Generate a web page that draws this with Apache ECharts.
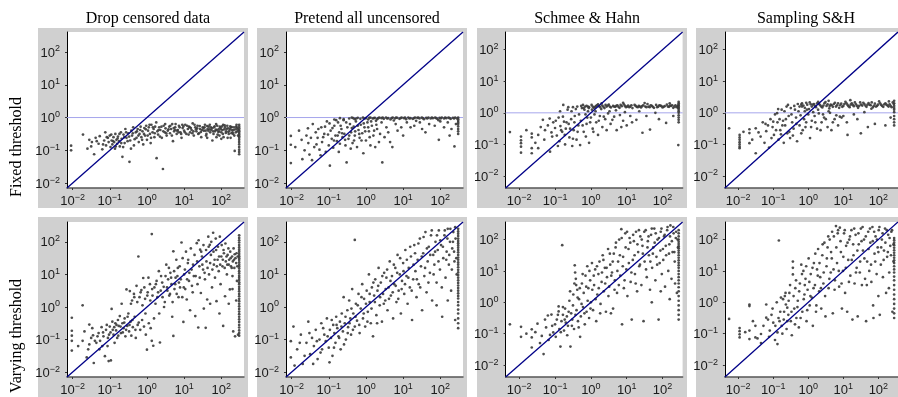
<!DOCTYPE html>
<html><head><meta charset="utf-8">
<script src="https://cdn.jsdelivr.net/npm/echarts@6/dist/echarts.min.js"></script>
<style>html,body{margin:0;padding:0;background:#fff}#c{width:898px;height:397px}</style>
</head><body><div id="c"></div>
<script>
// All point values are given as log10 exponents [log10(x), log10(y)].
const columnTitles = ['Drop censored data', 'Pretend all uncensored', 'Schmee & Hahn', 'Sampling S&H'];
const rowTitles = ['Fixed threshold', 'Varying threshold'];
const axisRangeA = [-2.15, 2.61];   // columns 1-2 (log10)
const axisRangeB = [-2.38, 2.56];   // columns 3-4 (log10)
const stackXA = 2.48;
const stackXB = 2.45;

// ---- Fixed threshold ----
const fixedDrop = [[-2.04,-0.86],[-2.04,-1.0],[-1.72,-0.52],[-1.6,-0.95],[-1.55,-0.68],[-1.5,-0.88],[-1.48,-0.75],[-1.42,-1.12],[-1.38,-0.62],[-1.3,-0.8],[-1.27,-0.57],[-1.2,-0.97],[-1.15,-0.7],[-1.12,-0.45],[-1.1,-0.85],[-1.05,-0.62],[-1.03,-0.75],[-1.0,-0.55],[-0.98,-0.9],[-0.95,-0.7],[-0.93,-0.82],[-0.9,-0.6],[-0.88,-0.75],[-0.86,-0.95],[-0.85,-0.5],[-0.82,-0.68],[-0.8,-0.8],[-0.78,-0.58],[-0.75,-0.72],[-0.73,-0.88],[-0.7,-0.45],[-0.68,-0.65],[-0.66,-1.2],[-0.63,-0.52],[-0.6,-0.78],[-0.58,-0.35],[-0.55,-0.62],[-0.5,-0.48],[-0.47,-1.35],[-0.45,-0.7],[-0.42,-0.4],[-0.4,-0.55],[-0.37,-0.3],[-0.35,-0.85],[-0.3,-0.45],[-0.28,-0.62],[-0.25,-0.35],[-0.22,-0.75],[-0.2,-0.5],[-0.17,-0.28],[-0.15,-0.6],[-0.12,-0.42],[-0.1,-0.82],[-0.07,-0.32],[-0.05,-0.55],[-0.02,-0.25],[0.0,-0.68],[0.03,-0.4],[0.05,-0.3],[0.08,-0.5],[0.1,-0.78],[0.12,-0.22],[0.15,-0.45],[0.18,-0.35],[0.2,-0.6],[0.22,-0.28],[0.26,-1.24],[0.28,-0.42],[0.3,-0.52],[0.33,-0.3],[0.36,-0.38],[0.4,-0.62],[0.43,-1.57],[0.45,-0.25],[0.48,-0.45],[0.5,-0.33],[0.53,-0.55],[0.56,-0.4],[0.6,-0.28],[0.62,-0.48],[0.65,-0.35],[0.68,-0.2],[0.7,-0.72],[0.73,-0.42],[0.76,-0.3],[0.8,-0.5],[0.83,-0.38],[0.86,-0.25],[0.9,-0.45],[0.93,-0.62],[0.96,-0.32],[1.0,-0.4],[1.03,-0.22],[1.06,-0.5],[1.1,-0.35],[1.13,-0.28],[1.16,-0.45],[1.2,-0.38],[1.23,-0.18],[1.26,-0.55],[1.3,-0.3],[1.33,-0.42],[1.36,-0.25],[1.4,-0.48],[1.43,-0.35],[1.46,-0.6],[1.5,-0.3],[1.53,-0.4],[1.56,-0.22],[1.6,-0.5],[1.63,-0.35],[1.66,-0.28],[1.7,-0.45],[1.73,-0.38],[1.76,-0.7],[1.8,-0.3],[1.83,-0.42],[1.86,-0.2],[1.9,-0.52],[1.93,-0.35],[1.96,-0.28],[2.0,-0.45],[2.03,-0.38],[2.06,-0.6],[2.1,-0.3],[2.13,-0.42],[2.16,-0.25],[2.2,-0.5],[2.23,-0.35],[2.26,-0.3],[2.3,-0.45],[2.33,-0.38],[2.36,-1.02],[2.4,-0.28],[2.43,-0.42],[1.52,-0.32],[1.58,-0.4],[1.62,-0.26],[1.68,-0.36],[1.72,-0.3],[1.78,-0.42],[1.82,-0.27],[1.88,-0.38],[1.92,-0.44],[1.98,-0.31],[2.02,-0.27],[2.08,-0.36],[2.12,-0.47],[2.18,-0.33],[2.22,-0.4],[2.28,-0.29],[2.32,-0.5],[2.38,-0.36],[2.42,-0.31],[2.45,-0.55],[1.15,-0.3],[0.95,-0.22],[0.85,-0.45],[0.75,-0.38],[1.25,-0.42],[1.45,-0.44],[1.35,-0.33],[2.25,-0.62],[2.05,-0.22],[1.95,-0.55]];
const fixedDropMore = [[-1.35,-0.72],[-1.18,-0.82],[-1.08,-0.6],[-0.96,-0.52],[-0.91,-0.72],[-0.84,-0.88],[-0.79,-0.64],[-0.74,-0.5],[-0.69,-0.78],[-0.64,-0.9],[-0.61,-0.6],[-0.56,-0.45],[-0.52,-0.72],[-0.48,-0.58],[-0.43,-0.95],[-0.38,-0.48],[-0.33,-0.66],[-0.27,-0.42],[-0.23,-0.55],[-0.18,-0.38],[-0.13,-0.68],[-0.08,-0.5],[-0.03,-0.36],[0.02,-0.55],[0.07,-0.22],[0.11,-0.62],[0.16,-0.3],[0.21,-0.48],[0.25,-0.15],[0.31,-0.38],[0.35,-0.58],[0.39,-0.28],[0.44,-0.42],[0.49,-0.2],[0.52,-0.48],[0.58,-0.36],[0.63,-0.25],[0.67,-0.55],[0.72,-0.32],[0.77,-0.2],[0.81,-0.4],[0.88,-0.3],[0.92,-0.5],[0.98,-0.27],[1.02,-0.45],[1.08,-0.25],[1.12,-0.52],[1.18,-0.32],[1.22,-0.48],[1.28,-0.22],[1.32,-0.36],[1.38,-0.5],[1.42,-0.26],[1.48,-0.38],[1.55,-0.3],[1.59,-0.55],[1.65,-0.4],[1.69,-0.22],[1.75,-0.33],[1.79,-0.5],[1.85,-0.37],[1.89,-0.25],[1.94,-0.42],[1.99,-0.36],[2.04,-0.5],[2.09,-0.24],[2.14,-0.35],[2.19,-0.44],[2.24,-0.27],[2.29,-0.38],[2.34,-0.3],[2.39,-0.45],[2.44,-0.36],[2.41,-0.22],[2.35,-0.55],[2.27,-0.48],[2.17,-0.62],[2.0,-0.65],[1.87,-0.6],[1.62,-0.62]];
const fixedDropStack = [-0.22,-0.28,-0.33,-0.38,-0.42,-0.47,-0.52,-0.57,-0.62,-0.68,-0.75,-0.82,-0.9,-0.98,-1.05,-1.12];

const fixedPretend = [[-2.02,-0.56],[-2.02,-0.83],[-2.02,-1.39],[-1.73,-0.68],[-1.71,-1.27],[-1.56,-0.33],[-1.55,-0.78],[-1.52,-1.13],[-1.43,-0.2],[-1.39,-0.9],[-1.35,-0.45],[-1.3,-0.62],[-1.25,-0.98],[-1.2,-0.3],[-1.18,-0.75],[-1.12,-0.5],[-1.08,-1.05],[-1.05,-0.12],[-1.0,-0.85],[-0.97,-1.47],[-0.95,-0.4],[-0.92,-0.65],[-0.88,-0.92],[-0.85,-0.25],[-0.82,-0.55],[-0.78,-0.72],[-0.75,-0.15],[-0.72,-0.45],[-0.7,-0.8],[-0.66,-0.35],[-0.63,-0.6],[-0.6,-0.05],[-0.58,-0.5],[-0.55,-0.85],[-0.52,-1.37],[-0.5,-0.3],[-0.47,-0.65],[-0.43,-0.2],[-0.4,-0.45],[-0.36,-0.78],[-0.33,-0.28],[-0.3,-0.55],[-0.27,-0.12],[-0.24,-0.9],[-0.2,-0.38],[-0.17,-0.62],[-0.14,-0.22],[-0.1,-0.48],[-0.07,-1.09],[-0.04,-0.3],[0.0,-0.7],[0.04,-0.15],[0.08,-0.42],[0.12,-0.85],[0.16,-0.25],[0.2,-0.55],[0.25,-0.9],[0.3,-0.35],[0.35,-0.75],[0.44,-1.37],[0.5,-0.6],[0.6,-0.45],[0.71,-0.9],[0.8,-0.2],[0.95,-0.3],[1.1,-0.15],[1.3,-0.25],[1.51,-0.35],[1.7,-0.2],[1.96,-0.68],[2.1,-0.3],[2.2,-0.15],[2.38,-0.88],[2.3,-0.35],
[-0.45,-0.03],[-0.38,0],[-0.3,-0.05],[-0.22,-0.01],[-0.15,-0.04],[-0.08,0],[0.0,-0.02],[0.06,-0.06],[0.12,0],[0.18,-0.03],[0.24,-0.01],[0.3,-0.05],[0.36,0],[0.42,-0.02],[0.48,-0.04],[0.54,0],[0.6,-0.02],[0.66,-0.06],[0.72,0],[0.78,-0.03],[0.84,-0.01],[0.9,-0.04],[0.96,0],[1.02,-0.02],[1.08,-0.05],[1.14,0],[1.2,-0.02],[1.26,-0.04],[1.32,0],[1.38,-0.01],[1.44,-0.03],[1.5,0],[1.56,-0.05],[1.62,-0.01],[1.68,0],[1.74,-0.03],[1.8,-0.02],[1.86,0],[1.92,-0.04],[1.98,-0.01],[2.04,0],[2.1,-0.03],[2.16,-0.02],[2.22,0],[2.28,-0.04],[2.34,-0.01],[2.4,0],[2.45,-0.03],[-0.34,-0.02],[-0.26,-0.03],[-0.04,-0.03],[0.09,-0.01],[0.21,-0.02],[0.33,-0.02],[0.45,0],[0.57,-0.03],[0.69,-0.02],[0.81,0],[0.93,-0.02],[1.05,0],[1.17,-0.03],[1.29,-0.02],[1.41,0],[1.53,-0.02],[1.65,-0.03],[1.77,0],[1.89,-0.02],[2.01,-0.03],[2.13,0],[2.25,-0.02],[2.37,-0.03],[-0.6,-0.08],[-0.7,-0.02],[-0.85,-0.06],[0.27,-0.1],[0.75,-0.09],[1.35,-0.1],[1.95,-0.08]];
const fixedPretendMore = [[-1.9,-0.9],[-1.8,-0.4],[-1.65,-1.0],[-1.6,-0.55],[-1.48,-0.62],[-1.45,-1.3],[-1.33,-0.82],[-1.28,-0.35],[-1.22,-1.15],[-1.15,-0.6],[-1.1,-0.28],[-1.02,-0.52],[-0.98,-0.18],[-0.9,-0.32],[-0.86,-0.7],[-0.8,-0.08],[-0.76,-0.55],[-0.73,-1.05],[-0.68,-0.25],[-0.64,-0.48],[-0.56,-0.68],[-0.53,-0.15],[-0.45,-0.55],[-0.41,-0.95],[-0.38,-0.32],[-0.32,-0.7],[-0.29,-0.42],[-0.22,-0.25],[-0.18,-0.5],[-0.12,-0.7],[-0.06,-0.18],[-0.02,-0.42],[0.06,-0.3],[0.1,-0.6],[0.14,-0.12],[0.22,-0.4],[0.28,-0.22],[0.38,-0.5],[0.42,-0.15],[0.55,-0.3],[0.65,-0.75],[0.85,-0.4],[1.0,-0.55],[1.2,-0.3],[1.45,-0.15],[1.6,-0.45],[1.85,-0.25],[2.0,-0.12],[2.25,-0.55],[2.42,-0.2]];
const fixedPretendStack = [0,-0.05,-0.1,-0.15,-0.2,-0.27,-0.35,-0.42,-0.5];

const fixedSchmee = [[-2.26,-0.61],[-1.95,-0.75],[-1.95,-0.87],[-1.95,-0.96],[-1.95,-1.07],[-1.95,-1.26],[-1.65,-0.66],[-1.65,-0.78],[-1.65,-1.12],[-1.65,-1.28],[-1.47,-0.7],[-1.47,-1.12],[-1.34,-0.22],[-1.28,-0.55],[-1.2,-0.4],[-1.14,-1.23],[-1.1,-0.62],[-1.05,-0.3],[-1.0,-0.48],[-0.95,-0.72],[-0.9,-0.15],[-0.88,-0.9],[-0.85,-0.42],[-0.8,-0.6],[-0.77,0.25],[-0.75,-0.28],[-0.72,-1.0],[-0.7,-0.5],[-0.65,0.1],[-0.62,-0.35],[-0.6,-0.78],[-0.55,-0.2],[-0.52,-1.05],[-0.5,0.18],[-0.48,-0.55],[-0.45,-0.1],[-0.4,-0.85],[-0.38,0.2],[-0.35,-0.4],[-0.3,-1.02],[-0.28,-0.25],[-0.25,0.15],[-0.2,-0.6],[-0.15,-0.05],[-0.12,-0.35],[-0.08,0.05],[-0.05,-0.95],[0.0,-0.15],[0.05,-0.5],[0.1,-0.05],[0.15,-0.3],[0.2,-0.7],[0.25,-0.1],[0.32,-0.45],[0.4,-0.2],[0.48,-0.02],[0.55,-0.35],[0.65,-0.12],[0.72,-0.55],[0.81,-0.07],[0.9,-0.25],[1.0,-0.4],[1.1,-0.1],[1.27,-0.22],[1.44,-0.63],[1.65,-0.53],[1.8,0.0],[2.1,-0.32],[2.44,-1.02],
[-0.2,0.15],[-0.12,0.22],[-0.05,0.18],[0.02,0.25],[0.08,0.16],[0.14,0.21],[0.2,0.27],[0.26,0.18],[0.32,0.23],[0.38,0.15],[0.44,0.2],[0.5,0.26],[0.56,0.17],[0.62,0.22],[0.68,0.19],[0.74,0.24],[0.8,0.16],[0.86,0.21],[0.92,0.27],[0.98,0.18],[1.04,0.23],[1.1,0.2],[1.16,0.15],[1.22,0.25],[1.28,0.19],[1.34,0.22],[1.4,0.17],[1.46,0.24],[1.52,0.2],[1.58,0.28],[1.64,0.18],[1.7,0.22],[1.76,0.16],[1.82,0.25],[1.88,0.2],[1.94,0.23],[2.0,0.17],[2.06,0.21],[2.12,0.26],[2.18,0.19],[2.24,0.22],[2.3,0.16],[2.36,0.24],[2.42,0.2],[-0.16,0.2],[0.05,0.2],[0.17,0.24],[0.35,0.19],[0.47,0.23],[0.65,0.2],[0.77,0.19],[0.95,0.22],[1.07,0.18],[1.25,0.22],[1.37,0.2],[1.55,0.18],[1.67,0.24],[1.85,0.18],[1.97,0.21],[2.15,0.2],[2.27,0.24],[2.39,0.18],[0.3,0.3],[0.9,0.32],[1.5,0.31],[2.2,0.3]];
const fixedSchmeeMore = [[-1.8,-0.55],[-1.55,-0.95],[-1.4,-0.45],[-1.3,-0.85],[-1.15,-0.18],[-1.08,-0.75],[-0.98,-0.25],[-0.92,-1.05],[-0.86,0.05],[-0.83,-0.55],[-0.78,-0.12],[-0.73,-0.7],[-0.68,-0.3],[-0.63,0.18],[-0.58,-0.5],[-0.54,0.05],[-0.5,-0.82],[-0.46,-0.3],[-0.42,0.12],[-0.37,-0.6],[-0.33,-0.05],[-0.27,0.22],[-0.23,-0.4],[-0.18,0.1],[-0.14,-0.75],[-0.1,-0.15],[-0.06,0.15],[-0.02,-0.3],[0.03,0.1],[0.07,-0.6],[0.13,0.05],[0.22,-0.25],[0.29,0.12],[0.36,-0.12],[0.44,-0.55],[0.52,0.05],[0.6,-0.22],[0.7,0.08],[0.85,-0.45],[0.95,0.02],[1.15,-0.3],[1.35,0.05],[1.55,-0.1],[1.9,-0.2],[2.3,-0.1],[-0.22,0.25],[-0.08,0.2],[0.11,0.18],[0.23,0.21],[0.41,0.25],[0.53,0.2],[0.71,0.22],[0.83,0.25],[1.01,0.2],[1.13,0.24],[1.31,0.18],[1.43,0.21],[1.61,0.2],[1.73,0.19],[1.91,0.24],[2.03,0.19],[2.21,0.23],[2.33,0.2],[2.44,0.24],[2.44,0.15]];
const fixedSchmeeStack = [0.35,0.3,0.25,0.2,0.15,0.1,0.05,0.0,-0.08,-0.15,-0.22,-0.3];

const fixedSampling = [[-2.26,-0.49],[-1.96,-0.7],[-1.96,-0.78],[-1.96,-0.85],[-1.96,-0.93],[-1.96,-1.0],[-1.96,-1.07],[-1.96,-1.12],[-1.68,-0.52],[-1.68,-0.64],[-1.68,-0.96],[-1.5,-0.49],[-1.5,-1.28],[-1.36,-0.75],[-1.22,-0.35],[-1.2,-0.58],[-1.12,-1.1],[-1.08,-0.2],[-1.02,-0.45],[-0.98,-0.7],[-0.95,-0.05],[-0.89,-0.01],[-0.88,-0.3],[-0.85,-0.85],[-0.8,-0.55],[-0.76,0.1],[-0.72,-0.25],[-0.7,-0.95],[-0.66,-0.4],[-0.62,0.2],[-0.6,-0.65],[-0.56,-0.1],[-0.52,-0.8],[-0.5,0.15],[-0.46,-0.3],[-0.42,-0.5],[-0.4,0.22],[-0.35,-0.15],[-0.32,-0.9],[-0.28,0.05],[-0.25,-0.4],[-0.2,-0.65],[-0.18,0.2],[-0.12,-0.2],[-0.08,-0.45],[-0.04,0.1],[0.0,-0.05],[0.05,-0.8],[0.1,-0.25],[0.18,-0.1],[0.25,-0.5],[0.3,-0.02],[0.38,-0.3],[0.45,-0.15],[0.55,-0.45],[0.62,0.0],[0.7,-0.3],[0.8,-0.08],[0.9,-0.12],[1.0,-0.1],[1.12,-0.7],[1.3,-0.05],[1.5,-0.65],[1.7,-0.45],[2.2,-0.4],
[-0.25,0.2],[-0.18,0.3],[-0.1,0.16],[-0.03,0.26],[0.04,0.33],[0.1,0.2],[0.16,0.28],[0.22,0.18],[0.28,0.35],[0.34,0.24],[0.4,0.17],[0.46,0.3],[0.52,0.22],[0.58,0.38],[0.64,0.26],[0.7,0.19],[0.76,0.32],[0.82,0.24],[0.88,0.16],[0.94,0.29],[1.0,0.22],[1.06,0.35],[1.12,0.25],[1.18,0.18],[1.24,0.3],[1.3,0.21],[1.36,0.27],[1.42,0.16],[1.48,0.33],[1.54,0.23],[1.6,0.28],[1.66,0.19],[1.72,0.31],[1.78,0.24],[1.84,0.17],[1.9,0.29],[1.96,0.22],[2.02,0.36],[2.08,0.25],[2.14,0.19],[2.2,0.3],[2.26,0.23],[2.32,0.27],[2.38,0.18],[2.44,0.28],[-0.14,0.23],[0.07,0.27],[0.19,0.22],[0.31,0.28],[0.43,0.23],[0.55,0.27],[0.67,0.24],[0.79,0.2],[0.91,0.24],[1.03,0.28],[1.15,0.21],[1.27,0.25],[1.39,0.22],[1.51,0.26],[1.63,0.23],[1.75,0.26],[1.87,0.22],[1.99,0.26],[2.11,0.22],[2.23,0.26],[2.35,0.22],[0.6,0.14],[1.2,0.4],[1.8,0.13],[2.3,0.36]];
const fixedSamplingMore = [[-1.85,-0.6],[-1.6,-0.85],[-1.42,-0.62],[-1.3,-0.3],[-1.25,-0.95],[-1.15,-0.4],[-1.05,-0.8],[-1.0,-0.28],[-0.92,-0.55],[-0.86,0.12],[-0.82,-0.2],[-0.78,-0.68],[-0.74,-0.4],[-0.68,0.05],[-0.64,-0.2],[-0.58,0.25],[-0.54,-0.6],[-0.48,-0.05],[-0.44,-0.72],[-0.38,0.1],[-0.34,-0.35],[-0.3,0.28],[-0.22,-0.08],[-0.16,-0.55],[-0.1,0.05],[-0.06,-0.3],[0.02,0.12],[0.08,-0.45],[0.14,0.02],[0.2,-0.3],[0.28,0.1],[0.35,-0.55],[0.42,-0.05],[0.5,-0.2],[0.58,0.05],[0.66,-0.55],[0.75,-0.2],[0.85,-0.4],[0.95,-0.15],[1.1,-0.3],[1.4,-0.2],[1.6,0.02],[1.9,-0.35],[2.35,-0.15],[-0.2,0.26],[-0.06,0.32],[0.13,0.26],[0.25,0.3],[0.37,0.2],[0.49,0.34],[0.61,0.22],[0.73,0.28],[0.85,0.3],[0.97,0.19],[1.09,0.3],[1.21,0.26],[1.33,0.33],[1.45,0.22],[1.57,0.32],[1.69,0.26],[1.81,0.33],[1.93,0.2],[2.05,0.3],[2.17,0.27],[2.29,0.2],[2.41,0.33]];
const fixedSamplingStack = [0.38,0.3,0.22,0.15,0.1,0.02,-0.1,-0.2,-0.3,-0.4];

// ---- Varying threshold ----
const varyDrop = [[-2.02,-0.33],[-2.02,-0.73],[-2.02,-0.88],[-2.02,-1.04],[-2.02,-1.34],[-1.73,0.05],[-1.73,-1.04],[-1.62,-1.55],[-1.55,-0.54],[-1.55,-1.15],[-1.5,-0.95],[-1.45,-0.87],[-1.43,-1.72],[-1.4,-1.04],[-1.36,-1.1],[-1.3,-0.8],[-1.26,-1.04],[-1.22,-0.62],[-1.2,-1.2],[-1.17,-0.9],[-1.13,-1.51],[-1.1,-0.7],[-1.08,-0.55],[-1.05,-0.95],[-1.03,-1.66],[-1.0,-0.6],[-0.98,-0.78],[-0.97,-1.64],[-0.95,-0.06],[-0.93,-0.45],[-0.9,-0.85],[-0.88,-0.62],[-0.85,-0.5],[-0.83,-0.72],[-0.8,-0.95],[-0.78,-0.4],[-0.76,-0.58],[-0.73,-0.28],[-0.7,-0.8],[-0.68,0.1],[-0.66,-0.5],[-0.63,-0.65],[-0.6,-0.35],[-0.58,-0.9],[-0.55,0.54],[-0.53,-0.58],[-0.5,-0.2],[-0.48,-0.75],[-0.46,0.49],[-0.44,-0.45],[-0.42,-0.88],[-0.4,0.2],[-0.38,-0.62],[-0.35,0.4],[-0.33,-0.3],[-0.3,-0.95],[-0.28,0.65],[-0.25,-0.55],[-0.23,1.55],[-0.2,0.3],[-0.18,-0.7],[-0.15,0.52],[-0.13,-0.4],[-0.1,0.89],[-0.08,-0.6],[-0.05,0.25],[-0.03,-0.85],[0.0,-1.31],[0.02,0.45],[0.05,-0.5],[0.08,0.7],[0.1,-0.65],[0.13,2.24],[0.13,-1.04],[0.15,0.35],[0.17,-1.19],[0.2,0.6],[0.23,0.1],[0.26,0.8],[0.3,0.45],[0.33,-0.2],[0.35,-1.09],[0.38,0.95],[0.42,0.3],[0.45,0.62],[0.48,0.15],[0.52,1.3],[0.55,0.5],[0.57,0.85],[0.6,0.35],[0.63,1.05],[0.66,0.7],[0.68,-0.3],[0.71,1.71],[0.71,-0.89],[0.74,0.55],[0.77,0.9],[0.8,0.4],[0.83,1.2],[0.86,0.75],[0.89,0.6],[0.93,1.98],[0.95,0.3],[0.98,-0.46],[1.0,1.0],[1.03,0.55],[1.07,0.23],[1.1,1.35],[1.13,0.8],[1.16,-0.1],[1.2,1.15],[1.23,0.45],[1.26,0.95],[1.3,-0.28],[1.34,1.96],[1.36,0.7],[1.38,-0.63],[1.41,1.25],[1.43,1.76],[1.45,0.43],[1.48,1.55],[1.51,1.15],[1.53,-0.05],[1.56,0.85],[1.58,-0.64],[1.6,1.4],[1.62,0.23],[1.65,2.16],[1.67,1.0],[1.69,1.91],[1.72,1.6],[1.75,0.6],[1.78,2.28],[1.8,1.3],[1.83,0.9],[1.86,1.75],[1.87,0.18],[1.9,1.45],[1.93,1.1],[1.96,2.16],[1.98,0.7],[2.0,1.55],[2.03,1.25],[2.05,-0.58],[2.07,1.65],[2.1,0.33],[2.12,1.4],[2.15,1.0],[2.17,1.6],[2.2,1.3],[2.23,0.54],[2.25,1.5],[2.28,1.2],[2.3,0.95],[2.32,-0.75],[2.34,1.45],[2.36,1.62],[2.37,-0.9],[2.4,1.35],[2.42,0.8],[2.44,1.55],[2.45,-0.85]];
const varyDropMore = [[-1.85,-1.2],[-1.68,-0.75],[-1.58,-1.3],[-1.47,-0.65],[-1.33,-0.9],[-1.28,-1.3],[-1.18,-0.78],[-1.06,-1.2],[-1.02,-0.85],[-0.92,-0.7],[-0.87,-1.1],[-0.82,-0.55],[-0.77,-0.88],[-0.71,-0.6],[-0.65,-0.78],[-0.61,-0.48],[-0.56,-0.7],[-0.52,-0.3],[-0.47,-0.55],[-0.43,0.1],[-0.39,-0.4],[-0.34,0.3],[-0.31,-0.7],[-0.26,0.15],[-0.22,-0.48],[-0.17,0.45],[-0.12,0.05],[-0.07,0.6],[-0.04,-0.2],[0.01,0.35],[0.04,0.9],[0.09,0.2],[0.14,0.55],[0.19,-0.35],[0.24,0.7],[0.28,0.3],[0.32,1.1],[0.37,0.5],[0.41,0.75],[0.46,0.0],[0.5,0.95],[0.54,0.6],[0.59,1.2],[0.62,0.4],[0.65,0.9],[0.69,0.15],[0.73,1.1],[0.76,0.7],[0.79,1.45],[0.82,0.95],[0.85,0.3],[0.88,1.25],[0.91,0.85],[0.96,1.5],[0.99,0.6],[1.02,1.15],[1.05,1.7],[1.08,0.85],[1.11,1.45],[1.14,1.05],[1.18,1.8],[1.21,0.65],[1.24,1.3],[1.28,1.6],[1.31,0.95],[1.35,1.4],[1.39,2.05],[1.42,0.9],[1.46,1.7],[1.49,1.3],[1.52,1.9],[1.55,1.05],[1.59,1.75],[1.63,1.2],[1.66,1.85],[1.7,1.35],[1.73,2.0],[1.76,1.15],[1.79,1.7],[1.82,1.45],[1.85,2.1],[1.88,1.25],[1.91,1.85],[1.94,1.55],[1.97,1.3],[2.01,1.9],[2.04,1.45],[2.06,1.75],[2.09,1.2],[2.11,1.95],[2.14,1.55],[2.16,1.3],[2.19,1.8],[2.21,1.45],[2.24,1.7],[2.26,1.25],[2.29,1.55],[2.31,1.4],[2.33,1.8],[2.35,1.2],[2.38,1.5],[2.41,1.65],[2.43,1.25],[2.2,0.1],[1.95,-0.2],[1.7,0.1],[2.4,0.2],[2.3,0.55]];
const varyDropStack = [2.2,2.12,2.05,1.98,1.9,1.83,1.76,1.7,1.63,1.56,1.5,1.44,1.37,1.3,1.24,1.18,1.1,1.03,0.96,0.9,0.83,0.76,0.7,0.62,0.55,0.48,0.4,0.33,0.25,0.18,0.1,0.02,-0.06,-0.14,-0.22,-0.3,-0.38,-0.46,-0.55,-0.63,-0.72,-0.8,-0.88];

const varyPretend = [[-2.02,-1.05],[-2.02,-1.55],[-1.95,-0.6],[-1.85,-1.3],[-1.75,-0.85],[-1.7,-1.75],[-1.6,-1.1],[-1.55,-0.45],[-1.5,-1.45],[-1.45,-0.95],[-1.4,-1.2],[-1.35,-0.7],[-1.3,-1.6],[-1.25,-1.0],[-1.2,-0.5],[-1.18,-1.3],[-1.12,-0.85],[-1.08,-1.05],[-1.05,-0.35],[-1.0,-1.25],[-0.97,-0.7],[-0.94,-0.95],[-0.9,-1.5],[-0.88,-0.55],[-0.85,-0.8],[-0.82,-1.1],[-0.8,-0.3],[-0.77,-0.65],[-0.74,-0.9],[-0.7,-0.45],[-0.68,-1.3],[-0.65,-0.2],[-0.62,-0.75],[-0.6,0.3],[-0.57,-0.5],[-0.54,-1.0],[-0.5,-0.1],[-0.48,-0.62],[-0.45,0.2],[-0.42,-0.35],[-0.4,-0.85],[-0.37,0.55],[-0.34,-0.2],[-0.3,2.06],[-0.3,-0.6],[-0.27,0.1],[-0.24,-0.42],[-0.2,0.4],[-0.17,-0.8],[-0.14,-0.05],[-0.1,0.7],[-0.08,-0.35],[-0.05,0.25],[-0.02,-0.6],[0.02,0.5],[0.05,-0.15],[0.08,1.0],[0.1,0.15],[0.13,-0.5],[0.16,0.6],[0.19,-0.9],[0.22,0.35],[0.25,0.85],[0.28,-0.25],[0.31,0.5],[0.34,1.2],[0.37,0.05],[0.4,0.75],[0.43,-0.45],[0.46,0.4],[0.49,1.05],[0.52,0.2],[0.55,0.9],[0.58,-0.1],[0.61,0.6],[0.64,1.4],[0.67,0.35],[0.7,0.95],[0.73,-0.35],[0.76,0.7],[0.79,1.2],[0.82,0.15],[0.85,1.6],[0.88,0.5],[0.91,1.0],[0.94,-0.2],[0.97,0.8],[1.0,1.35],[1.03,0.4],[1.06,1.75],[1.09,0.95],[1.12,0.1],[1.15,1.2],[1.18,0.6],[1.21,1.55],[1.24,-0.4],[1.27,0.85],[1.3,1.9],[1.33,1.1],[1.36,0.3],[1.39,1.45],[1.42,0.7],[1.45,2.1],[1.48,1.25],[1.51,-0.1],[1.54,1.65],[1.57,0.95],[1.6,2.3],[1.63,0.45],[1.66,1.4],[1.69,1.85],[1.72,1.05],[1.75,2.2],[1.78,0.2],[1.81,1.6],[1.84,1.3],[1.87,2.0],[1.9,0.75],[1.93,1.75],[1.96,2.35],[1.99,1.15],[2.02,1.9],[2.05,-0.3],[2.08,1.5],[2.11,2.2],[2.14,0.9],[2.17,1.7],[2.2,2.4],[2.23,1.3],[2.26,2.0],[2.29,0.5],[2.32,1.8],[2.35,2.3],[2.38,1.4],[2.41,2.1],[2.44,1.0]];
const varyPretendMore = [[-1.92,-1.8],[-1.78,-1.1],[-1.65,-1.5],[-1.52,-0.8],[-1.42,-1.75],[-1.32,-1.05],[-1.22,-1.4],[-1.15,-0.65],[-1.03,-0.9],[-0.98,-1.7],[-0.92,-0.4],[-0.86,-1.25],[-0.79,-0.55],[-0.72,-0.95],[-0.66,-0.6],[-0.59,-1.15],[-0.55,-0.3],[-0.49,-0.8],[-0.44,-0.5],[-0.39,-0.05],[-0.35,-0.7],[-0.28,-0.3],[-0.22,0.05],[-0.18,-0.55],[-0.12,0.3],[-0.06,-0.2],[0.0,0.1],[0.04,-0.45],[0.1,0.4],[0.15,-0.05],[0.2,0.75],[0.24,0.15],[0.3,-0.5],[0.33,0.65],[0.38,0.3],[0.44,0.95],[0.48,0.1],[0.53,0.55],[0.57,1.15],[0.62,0.25],[0.66,0.8],[0.72,0.45],[0.75,1.3],[0.8,0.65],[0.84,1.05],[0.87,0.25],[0.92,1.5],[0.96,0.55],[1.01,1.1],[1.05,0.7],[1.1,1.45],[1.14,0.9],[1.19,1.85],[1.23,0.5],[1.28,1.3],[1.32,1.65],[1.37,0.85],[1.41,1.95],[1.46,0.6],[1.5,1.55],[1.55,2.15],[1.59,1.2],[1.64,1.8],[1.68,0.75],[1.73,1.6],[1.77,2.35],[1.82,1.0],[1.86,1.7],[1.91,2.2],[1.95,1.4],[2.0,2.05],[2.04,0.6],[2.07,1.85],[2.12,2.35],[2.16,1.45],[2.19,2.1],[2.24,1.6],[2.27,2.4],[2.31,1.15],[2.34,2.0],[2.37,1.7],[2.4,2.45],[2.43,1.5],[2.2,0.2],[1.9,0.05],[2.4,-0.4]];
const varyPretendStack = [2.4,2.32,2.25,2.18,2.1,2.03,1.96,1.89,1.82,1.75,1.68,1.6,1.52,1.45,1.37,1.3,1.22,1.14,1.06,0.98,0.9,0.82,0.74,0.66,0.58,0.5,0.42,0.34,0.26,0.15,0.05,-0.08,-0.2,-0.35,-0.5,-0.65];

const varySchmee = [[-2.26,-0.7],[-1.95,-0.78],[-1.95,-1.1],[-1.65,-0.86],[-1.65,-1.12],[-1.65,-1.44],[-1.49,-0.68],[-1.37,-1.07],[-1.32,-1.65],[-1.25,-0.8],[-1.2,-0.42],[-1.14,-1.04],[-1.1,-0.39],[-1.05,-0.96],[-1.0,-0.7],[-0.95,-0.55],[-0.9,-0.13],[-0.9,-0.29],[-0.88,-0.85],[-0.85,-1.41],[-0.82,-0.6],[-0.8,1.82],[-0.78,-0.4],[-0.75,-0.9],[-0.72,-0.2],[-0.7,-0.65],[-0.67,-0.45],[-0.64,-0.75],[-0.6,0.05],[-0.57,-1.41],[-0.55,-0.35],[-0.52,-0.55],[-0.49,0.25],[-0.47,-0.85],[-0.45,1.18],[-0.44,0.95],[-0.42,0.75],[-0.41,0.55],[-0.4,-0.25],[-0.38,0.4],[-0.36,-0.6],[-0.33,0.1],[-0.3,-1.1],[-0.28,-0.45],[-0.25,0.6],[-0.22,-0.15],[-0.2,0.3],[-0.17,-0.7],[-0.15,0.85],[-0.12,-0.3],[-0.1,1.15],[-0.07,0.45],[-0.05,-0.5],[-0.02,0.7],[0.0,0.0],[0.03,1.25],[0.06,-0.25],[0.09,0.55],[0.12,1.05],[0.15,-0.6],[0.18,0.25],[0.21,0.9],[0.24,1.3],[0.27,-0.05],[0.3,0.65],[0.33,1.5],[0.36,0.35],[0.39,1.1],[0.42,-0.3],[0.45,0.8],[0.48,1.7],[0.51,0.5],[0.54,1.2],[0.56,-0.35],[0.59,0.95],[0.62,-0.2],[0.64,1.55],[0.67,0.7],[0.7,1.9],[0.73,0.3],[0.76,1.3],[0.79,2.0],[0.82,0.85],[0.85,2.33],[0.87,-0.7],[0.9,1.45],[0.92,0.45],[0.96,2.2],[0.99,1.05],[1.02,0.2],[1.05,1.7],[1.08,2.05],[1.11,0.65],[1.14,-0.55],[1.17,1.35],[1.2,1.95],[1.23,0.9],[1.26,2.25],[1.29,0.35],[1.32,1.6],[1.35,1.15],[1.38,2.1],[1.41,0.55],[1.44,1.8],[1.47,-0.6],[1.5,1.3],[1.53,2.3],[1.56,0.8],[1.59,1.95],[1.62,1.5],[1.65,0.4],[1.68,2.15],[1.71,1.1],[1.74,1.75],[1.77,2.35],[1.8,0.7],[1.83,1.45],[1.86,2.0],[1.89,-0.55],[1.92,1.25],[1.95,2.25],[1.98,0.9],[2.01,1.7],[2.04,2.1],[2.07,0.5],[2.1,1.5],[2.13,2.3],[2.16,1.0],[2.19,1.85],[2.22,2.45],[2.25,0.75],[2.28,1.6],[2.31,2.2],[2.34,1.3],[2.37,2.05],[2.4,0.3],[2.43,1.75]];
const varySchmeeMore = [[-1.8,-1.0],[-1.55,-0.95],[-1.42,-1.3],[-1.28,-0.55],[-1.18,-1.2],[-1.08,-0.75],[-0.98,-1.1],[-0.92,-0.4],[-0.84,-0.95],[-0.78,-0.15],[-0.73,-0.55],[-0.66,-1.05],[-0.62,-0.3],[-0.58,0.35],[-0.53,-0.75],[-0.5,-0.1],[-0.46,0.6],[-0.43,-0.4],[-0.37,0.15],[-0.34,-0.8],[-0.31,0.45],[-0.26,-0.05],[-0.23,0.9],[-0.18,-0.35],[-0.13,0.5],[-0.09,0.05],[-0.04,1.0],[-0.01,-0.2],[0.04,0.4],[0.08,0.85],[0.13,0.1],[0.17,1.15],[0.22,0.45],[0.26,-0.35],[0.31,0.95],[0.35,1.35],[0.4,0.6],[0.44,1.1],[0.49,0.2],[0.53,1.55],[0.57,0.85],[0.61,1.3],[0.66,0.4],[0.69,1.75],[0.74,1.0],[0.78,0.55],[0.81,1.5],[0.86,2.05],[0.89,1.15],[0.94,0.7],[0.97,1.75],[1.01,2.25],[1.06,1.25],[1.1,1.9],[1.13,0.95],[1.18,2.15],[1.22,1.5],[1.25,0.6],[1.3,1.85],[1.34,2.3],[1.37,1.2],[1.42,2.0],[1.45,1.55],[1.49,2.25],[1.54,1.05],[1.58,1.75],[1.61,2.1],[1.66,1.3],[1.7,2.35],[1.73,1.55],[1.78,1.9],[1.81,2.2],[1.85,1.2],[1.9,2.05],[1.94,1.65],[1.97,2.35],[2.02,1.35],[2.06,2.15],[2.09,1.8],[2.14,2.4],[2.18,1.55],[2.21,2.1],[2.26,1.95],[2.3,2.4],[2.33,1.6],[2.38,2.25],[2.42,2.0],[2.2,0.1],[1.95,0.35],[1.7,0.0],[2.35,0.6]];
const varySchmeeStack = [2.3,2.2,2.1,2.0,1.93,1.86,1.79,1.72,1.65,1.58,1.5,1.42,1.34,1.26,1.18,1.1,1.0,0.9,0.8,0.7,0.6,0.48,0.35,0.2,0.05,-0.1,-0.25,-0.4,-0.55];

const varySampling = [[-2.26,-0.53],[-1.96,-0.82],[-1.96,-0.92],[-1.96,-1.02],[-1.96,-1.12],[-1.68,-0.07],[-1.68,-0.12],[-1.68,-0.9],[-1.68,-1.17],[-1.51,-0.75],[-1.51,-1.12],[-1.35,-1.01],[-1.35,-1.3],[-1.2,-0.07],[-1.2,-0.49],[-1.15,-0.55],[-1.1,-0.9],[-1.05,-0.4],[-1.0,-0.65],[-0.95,-1.2],[-0.88,-0.96],[-0.88,-1.33],[-0.85,-0.5],[-0.84,1.97],[-0.8,-0.3],[-0.76,-0.75],[-0.72,0.1],[-0.7,-0.55],[-0.67,0.2],[-0.64,-0.07],[-0.62,-0.85],[-0.6,-0.17],[-0.57,-0.4],[-0.54,0.3],[-0.5,-0.6],[-0.47,-1.05],[-0.44,1.3],[-0.44,1.1],[-0.44,0.89],[-0.4,-0.2],[-0.37,0.45],[-0.34,-0.5],[-0.3,0.05],[-0.27,-0.8],[-0.24,0.6],[-0.2,1.2],[-0.17,-0.3],[-0.14,1.0],[-0.11,0.25],[-0.08,0.75],[-0.05,-0.6],[-0.02,0.4],[0.01,1.4],[0.04,-0.1],[0.07,0.9],[0.1,0.15],[0.13,-0.75],[0.16,1.25],[0.19,0.55],[0.22,-0.3],[0.25,1.05],[0.28,1.7],[0.31,0.35],[0.34,0.8],[0.37,-0.2],[0.4,1.5],[0.43,0.6],[0.46,1.9],[0.49,-0.45],[0.52,1.15],[0.55,1.75],[0.58,0.45],[0.61,2.0],[0.64,0.95],[0.67,1.4],[0.7,-0.35],[0.73,2.1],[0.76,0.7],[0.79,2.43],[0.82,1.25],[0.85,2.3],[0.88,0.5],[0.9,2.38],[0.93,1.6],[0.96,-0.2],[0.99,1.0],[1.02,2.2],[1.05,0.3],[1.08,1.8],[1.11,-0.3],[1.14,1.35],[1.17,2.0],[1.2,0.85],[1.23,2.3],[1.26,-0.55],[1.29,1.5],[1.32,0.6],[1.35,2.15],[1.38,1.1],[1.41,-0.45],[1.44,1.85],[1.47,0.95],[1.5,2.35],[1.53,0.55],[1.56,1.65],[1.59,2.0],[1.62,0.75],[1.65,-0.6],[1.68,1.3],[1.71,2.25],[1.74,1.0],[1.77,1.9],[1.8,0.65],[1.83,2.4],[1.86,-0.5],[1.89,1.55],[1.92,2.1],[1.95,0.9],[1.98,1.75],[2.01,2.3],[2.04,-0.4],[2.07,1.2],[2.1,2.0],[2.13,0.8],[2.16,1.65],[2.19,2.35],[2.22,0.3],[2.25,1.45],[2.28,2.15],[2.31,0.95],[2.34,1.8],[2.37,2.25],[2.4,-0.3],[2.43,1.3]];
const varySamplingMore = [[-1.8,-0.95],[-1.58,-0.6],[-1.45,-1.15],[-1.28,-0.75],[-1.12,-1.1],[-1.02,-0.2],[-0.94,-0.75],[-0.9,0.0],[-0.82,-0.6],[-0.78,0.15],[-0.74,-1.0],[-0.69,-0.3],[-0.65,0.3],[-0.6,-0.6],[-0.56,0.05],[-0.52,0.55],[-0.48,-0.3],[-0.42,0.2],[-0.38,-0.7],[-0.35,0.7],[-0.31,-0.15],[-0.26,0.35],[-0.22,-0.5],[-0.18,0.9],[-0.13,0.1],[-0.1,0.55],[-0.06,1.15],[-0.03,-0.25],[0.03,0.65],[0.06,0.2],[0.12,1.1],[0.15,0.45],[0.2,1.55],[0.23,-0.1],[0.27,0.85],[0.32,1.25],[0.36,0.45],[0.41,1.85],[0.44,0.95],[0.48,0.2],[0.53,1.4],[0.57,2.1],[0.6,0.75],[0.65,1.6],[0.68,2.25],[0.72,1.05],[0.75,0.4],[0.8,1.75],[0.84,2.2],[0.87,1.0],[0.92,1.95],[0.95,0.6],[1.0,1.45],[1.04,2.3],[1.07,1.1],[1.12,1.9],[1.16,0.65],[1.19,2.1],[1.24,1.35],[1.28,1.85],[1.31,2.35],[1.36,0.95],[1.4,1.65],[1.43,2.2],[1.48,1.3],[1.52,1.95],[1.55,2.4],[1.6,1.4],[1.64,2.1],[1.67,0.55],[1.72,1.7],[1.76,2.35],[1.79,1.2],[1.84,1.95],[1.88,2.25],[1.91,1.3],[1.96,2.0],[2.0,1.6],[2.03,2.4],[2.08,1.75],[2.12,2.2],[2.15,1.35],[2.2,1.9],[2.24,2.3],[2.27,1.6],[2.32,2.05],[2.36,1.5],[2.39,2.3],[2.43,1.85],[2.0,0.2],[1.85,-0.1],[2.3,0.45]];
const varySamplingStack = [2.05,1.98,1.9,1.82,1.74,1.66,1.58,1.5,1.42,1.34,1.25,1.15,1.05,0.95,0.82,0.7,0.55,0.4,0.25,0.1,-0.05,-0.2,-0.35,-0.5];

// ---- assembly ----
const panelDefs = [
  {row:0,col:0,pts:fixedDrop.concat(fixedDropMore),stack:fixedDropStack,range:axisRangeA,sx:stackXA},
  {row:0,col:1,pts:fixedPretend.concat(fixedPretendMore),stack:fixedPretendStack,range:axisRangeA,sx:stackXA},
  {row:0,col:2,pts:fixedSchmee.concat(fixedSchmeeMore),stack:fixedSchmeeStack,range:axisRangeB,sx:stackXB},
  {row:0,col:3,pts:fixedSampling.concat(fixedSamplingMore),stack:fixedSamplingStack,range:axisRangeB,sx:stackXB},
  {row:1,col:0,pts:varyDrop.concat(varyDropMore),stack:varyDropStack,range:axisRangeA,sx:stackXA},
  {row:1,col:1,pts:varyPretend.concat(varyPretendMore),stack:varyPretendStack,range:axisRangeA,sx:stackXA},
  {row:1,col:2,pts:varySchmee.concat(varySchmeeMore),stack:varySchmeeStack,range:axisRangeB,sx:stackXB},
  {row:1,col:3,pts:varySampling.concat(varySamplingMore),stack:varySamplingStack,range:axisRangeB,sx:stackXB}
];

const P = v => Math.pow(10, v);
const plotLeft = [67, 286, 505.6, 724.9];
const plotTop = [32, 222];
const plotW = 177, plotH = 156;
const boxLeft = [38, 257, 477, 696];
const boxTop = [28, 217];
const boxH = [180, 190];
const gray = '#d0d0d0';

function labelFmt(v) {
  const e = Math.round(Math.log10(v));
  const s = e < 0 ? '\u2212' + Math.abs(e) : String(e);
  return '{b|10}{s|' + s + '}';
}
const rich = {
  b: {fontSize: 13, fontFamily: 'Liberation Sans', color: '#1a1a1a', lineHeight: 15, verticalAlign: 'bottom'},
  s: {fontSize: 9, fontFamily: 'Liberation Sans', color: '#1a1a1a', lineHeight: 10, verticalAlign: 'top'}
};

const grids = [], xAxes = [], yAxes = [], series = [], graphics = [], titles = [];
panelDefs.forEach((d, i) => {
  grids.push({left: plotLeft[d.col], top: plotTop[d.row], width: plotW, height: plotH,
    show: true, backgroundColor: '#ffffff', borderWidth: 0, containLabel: false});
  const base = {
    type: 'log', logBase: 10, gridIndex: i, min: P(d.range[0]), max: P(d.range[1]),
    splitLine: {show: false}, minorTick: {show: false},
    axisTick: {show: true, length: 2, inside: false, lineStyle: {color: '#333', width: 1}},
    axisLabel: {formatter: labelFmt, rich: rich, showMinLabel: false, showMaxLabel: false}
  };
  xAxes.push(Object.assign({}, base, {
    axisLine: {show: true, onZero: false, lineStyle: {color: '#555', width: 1.5}},
    axisLabel: Object.assign({}, base.axisLabel, {margin: 5})
  }));
  yAxes.push(Object.assign({}, base, {
    axisLine: {show: true, onZero: false, lineStyle: {color: '#000', width: 1}},
    axisLabel: Object.assign({}, base.axisLabel, {margin: 7})
  }));
  const data = d.pts.map(p => [P(p[0]), P(p[1])]).concat(d.stack.map(y => [P(d.sx), P(y)]));
  if (d.row === 0) {
    series.push({type: 'line', xAxisIndex: i, yAxisIndex: i, symbol: 'none', silent: true, z: 1,
      data: [[P(d.range[0]), 1], [P(d.range[1]), 1]], lineStyle: {color: '#a6a6ec', width: 1}});
  }
  series.push({type: 'scatter', xAxisIndex: i, yAxisIndex: i, symbol: 'circle', symbolSize: 2.7, z: 2,
    itemStyle: {color: '#3a3a3a', opacity: 0.9}, data: data});
  series.push({type: 'line', xAxisIndex: i, yAxisIndex: i, symbol: 'none', silent: true, z: 3,
    data: [[P(d.range[0]), P(d.range[0])], [P(d.range[1]), P(d.range[1])]],
    lineStyle: {color: '#000088', width: 1.3}});
});
for (let r = 0; r < 2; r++) for (let c = 0; c < 4; c++) {
  graphics.push({type: 'rect', z: -10, shape: {x: boxLeft[c], y: boxTop[r], width: 210, height: boxH[r]},
    style: {fill: gray}});
}
const rowCenters = [147, 336];
rowTitles.forEach((t, r) => {
  graphics.push({type: 'text', x: 17, y: rowCenters[r], rotation: Math.PI / 2,
    style: {text: t, font: '16px "Liberation Serif"', fill: '#000', textAlign: 'center', textVerticalAlign: 'middle'}});
});
columnTitles.forEach((t, c) => {
  titles.push({text: t, left: boxLeft[c] + 105, top: 6, textAlign: 'center',
    textStyle: {fontFamily: 'Liberation Serif', fontSize: 16, fontWeight: 'normal', color: '#000'}});
});

const chart = echarts.init(document.getElementById('c'), null, {renderer: 'canvas'});
chart.setOption({
  animation: false,
  backgroundColor: '#ffffff',
  title: titles,
  grid: grids,
  xAxis: xAxes,
  yAxis: yAxes,
  series: series,
  graphic: graphics
});
</script></body></html>
